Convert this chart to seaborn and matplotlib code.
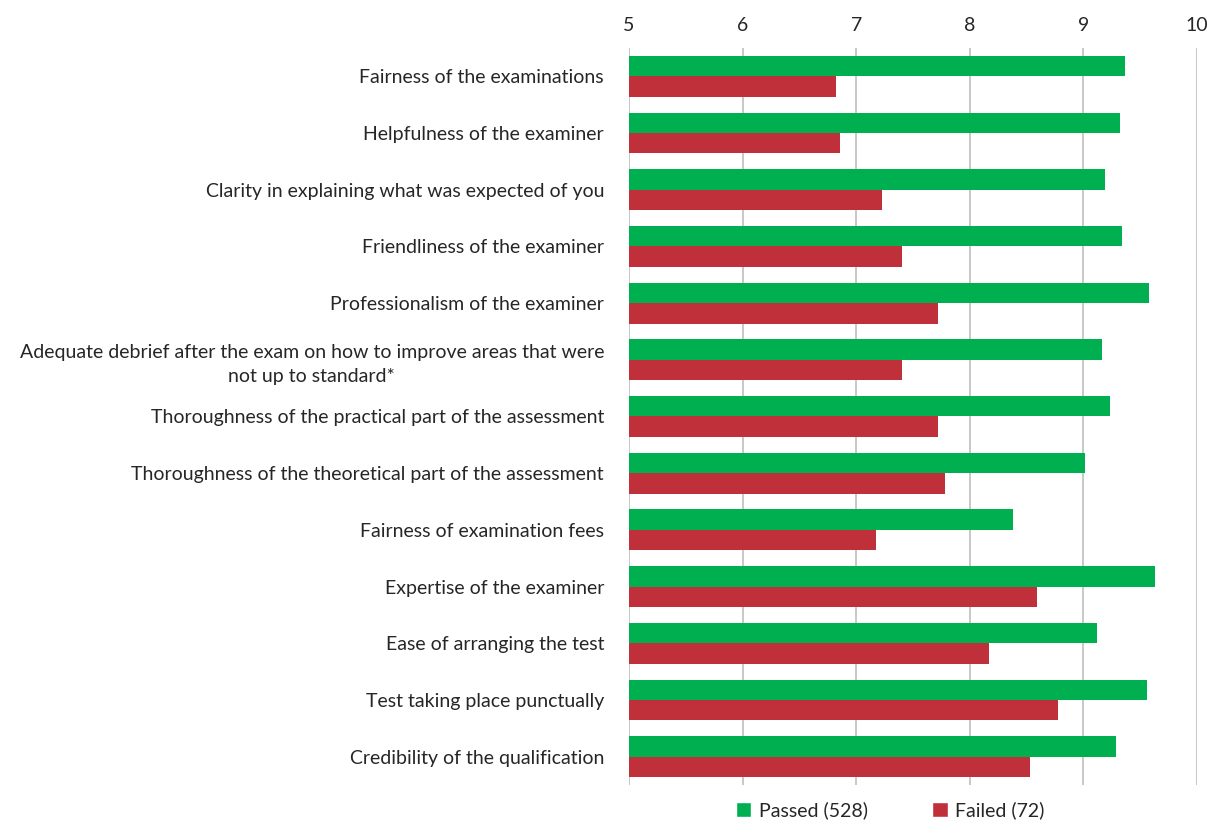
import pandas as pd
import matplotlib.pyplot as plt
import seaborn as sns
from matplotlib.patches import Patch

# ------------------------------------------------------------------
# Data
# ------------------------------------------------------------------
categories = [
    'Fairness of the examinations',
    'Helpfulness of the examiner',
    'Clarity in explaining what was expected of you',
    'Friendliness of the examiner',
    'Professionalism of the examiner',
    'Adequate debrief after the exam on how to improve areas that were\nnot up to standard*',
    'Thoroughness of the practical part of the assessment',
    'Thoroughness of the theoretical part of the assessment',
    'Fairness of examination fees',
    'Expertise of the examiner',
    'Ease of arranging the test',
    'Test taking place punctually',
    'Credibility of the qualification',
]
passed = [9.37, 9.32, 9.19, 9.34, 9.58, 9.16, 9.23, 9.01, 8.38, 9.63, 9.12, 9.56, 9.29]
failed = [6.82, 6.86, 7.23, 7.40, 7.72, 7.40, 7.72, 7.78, 7.17, 8.59, 8.17, 8.78, 8.53]
groups = ['Passed (528)', 'Failed (72)']
x_ticks = [5, 6, 7, 8, 9, 10]

colors = {'Passed (528)': '#00B050', 'Failed (72)': '#C0303A'}

df = pd.DataFrame({
    'Item': categories * 2,
    'Score': passed + failed,
    'Group': [groups[0]] * len(categories) + [groups[1]] * len(categories),
})

# ------------------------------------------------------------------
# Plot
# ------------------------------------------------------------------
sns.set_style('white')
plt.rcParams['font.family'] = ['Lato', 'DejaVu Sans']

fig = plt.figure(figsize=(12.16, 8.3), dpi=100)
ax = fig.add_axes([0.5173, 0.0542, 0.4671, 0.888])

sns.barplot(data=df, x='Score', y='Item', hue='Group', order=categories,
            hue_order=groups, palette=colors, width=0.72, orient='h',
            saturation=1, edgecolor='none', ax=ax)

ax.set_xlim(5, 10)
ax.set_xticks(x_ticks)
ax.xaxis.tick_top()
ax.tick_params(axis='both', length=0, labelsize=14)
ax.tick_params(axis='x', pad=10)
ax.tick_params(axis='y', pad=18)
for lbl in ax.get_yticklabels():
    lbl.set_multialignment('center')
    lbl.set_linespacing(1.45)
ax.set_xlabel('')
ax.set_ylabel('')
ax.grid(axis='x', color='#BFBFBF', linewidth=1.2)
ax.grid(axis='y', visible=False)
ax.set_axisbelow(True)
sns.despine(ax=ax, left=True, bottom=True)
ax.spines['top'].set_visible(False)
ax.spines['right'].set_visible(False)

ax.get_legend().remove()
handles = [Patch(facecolor=colors[g], label=g) for g in groups]
fig.legend(handles=handles, loc='lower center', bbox_to_anchor=(0.732, -0.008),
           ncol=2, frameon=False, fontsize=14, handlelength=0.8,
           handleheight=0.8, handletextpad=0.4, columnspacing=3.3)

fig.savefig('out.png', dpi=100)
